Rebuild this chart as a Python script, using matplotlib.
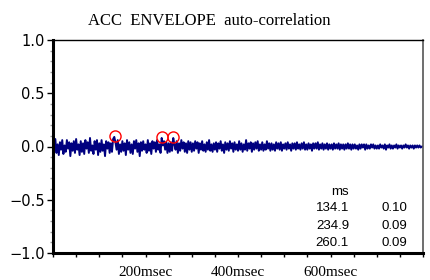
import numpy as np
import matplotlib
matplotlib.use("Agg")
import matplotlib.pyplot as plt
from matplotlib.ticker import MultipleLocator, FixedLocator

# auto-correlation trace, 2.5 ms per sample, values in hundredths
step_ms = 2.5
trace_hundredths = [
    5, -4, 7, -6, 2, -8, 4, -3, 6, -7, 1, -5, 6, -2, 4, -9, 3, -4, 5, -6,
    7, -3, 2, -8, 5, -5, 3, -7, 6, -2, 4, -6, 8, -4, 1, -7, 5, -3, 6, -8,
    3, -5, 6, -4, 2, -9, 5, -2, 4, -6, 3, -5, 7, 9, 4, -3, 6, -7, 2, -5,
    5, -4, 3, -8, 6, -3, 4, -6, 2, -7, 5, -2, 6, -5, 3, -9, 4, -4, 5, -3,
    2, -6, 6, -4, 3, -7, 5, -2, 4, -5, 6, -3, 2, -6, 8, 1, 5, -3, 4, -6,
    3, -5, 4, -4, 8, 2, -3, 5, -6, 3, -4, 6, -2, 4, -5, 3, -6, 5, -3, 4,
    -5, 3, -4, 5, -2, 4, -6, 3, -3, 5, -4, 2, -5, 4, -3, 6, -4, 2, -5, 3,
    -3, 4, -5, 3, -2, 5, -4, 2, -6, 4, -3, 3, -4, 5, -2, 3, -5, 4, -3, 2,
    -4, 5, -3, 3, -5, 2, -3, 6, -4, 3, -2, 4, -5, 3, -3, 4, -2, 5, -4, 2,
    -3, 4, -4, 2, -3, 5, -2, 3, -4, 3, -3, 2, -4, 4, -2, 3, -3, 4, -4, 2,
    -2, 3, -3, 4, -2, 2, -4, 3, -2, 3, -3, 4, -2, 2, -3, 3, -2, 4, -3, 2,
    -3, 3, -2, 2, -4, 3, -2, 3, -2, 4, -3, 2, -2, 3, -3, 2, -2, 3, -3, 2,
    -2, 2, -3, 3, -2, 2, -2, 3, -3, 2, -2, 2, -3, 2, -2, 3, -2, 2, -3, 2,
    -2, 2, -2, 1, -3, 2, -2, 2, -1, 2, -3, 2, -2, 1, -2, 2, -1, 2, -2, 1,
    -2, 1, -2, 2, -1, 1, -2, 2, -3, 1, -1, 2, -2, 1, -2, 1, -1, 2, -2, 1,
    -1, 1, -2, 1, -1, 2, -1, 1, -2, 1, -1, 1, -2, 1, -1, 1, -1, 1, -1, 0, 0,
]

peak_ms = [134.1, 234.9, 260.1]
peak_val = [0.10, 0.09, 0.09]

xtick_pos = [200, 400, 600]
xtick_labels = ["200msec", "400msec", "600msec"]

y = np.array(trace_hundredths) / 100.0
t = np.arange(len(y)) * step_ms

fig = plt.figure(figsize=(4.3, 2.8), dpi=100)
ax = fig.add_axes([53 / 430, 1 - 253 / 280, 370 / 430, 213 / 280])

ax.plot(t, y, color="#000080", lw=1.4)
ax.plot(peak_ms, peak_val, "o", ms=8, mfc="none", mec="red", mew=1.0)

ax.set_xlim(0, 800)
ax.set_ylim(-1.0, 1.0)

ax.xaxis.set_major_locator(FixedLocator(xtick_pos))
ax.set_xticklabels(xtick_labels, family="Liberation Serif", fontsize=11)
ax.xaxis.set_minor_locator(MultipleLocator(50))
ax.tick_params(axis="x", which="both", direction="out", length=3, width=1, pad=6)

ax.yaxis.set_minor_locator(MultipleLocator(0.1))
ax.set_yticks([-1.0, -0.5, 0.0, 0.5, 1.0])
ax.set_yticklabels(["\u22121.0", "\u22120.5", "0.0", "0.5", "1.0"],
                   family="DejaVu Sans", fontsize=10.5)
ax.tick_params(axis="y", which="major", direction="out", length=4, width=1, pad=2)
ax.tick_params(axis="y", which="minor", direction="out", length=2, width=1,
               color="#999999")

ax.spines["left"].set_linewidth(2.2)
ax.spines["bottom"].set_linewidth(2.2)
ax.spines["top"].set_linewidth(1.0)
ax.spines["right"].set_linewidth(1.2)
ax.spines["right"].set_color("#555555")

fig.text(209 / 430, 1 - 21 / 280, "ACC  ENVELOPE  auto-correlation",
         family="Liberation Serif", fontsize=12, ha="center", va="center")

# peak table
tfont = dict(family="Liberation Sans", fontsize=9.5, va="center")
fig.text(340 / 430, 1 - 192 / 280, "ms", ha="center", **tfont)
row_y = [208, 226, 243]
for yy, ms, v in zip(row_y, peak_ms, peak_val):
    fig.text(349 / 430, 1 - yy / 280, f"{ms:.1f}", ha="right", **tfont)
    fig.text(407 / 430, 1 - yy / 280, f"{v:.2f}", ha="right", **tfont)

fig.savefig("out.png", dpi=100)
